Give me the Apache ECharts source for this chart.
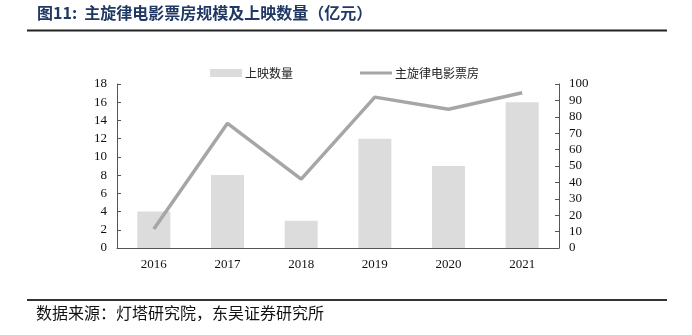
<!DOCTYPE html>
<html><head><meta charset="utf-8">
<script src="https://cdn.jsdelivr.net/npm/echarts@6/dist/echarts.min.js"></script>
<style>html,body{margin:0;padding:0;background:#fff;}#c{width:692px;height:335px;}</style>
</head><body><div id="c"></div>
<script>
const categories = ['2016','2017','2018','2019','2020','2021'];
const releaseCount = [4, 8, 3, 12, 9, 16];
const boxOffice = [11.6, 76, 42, 92, 84.6, 94.7];
const leftTicks = [0, 18, 2];
const rightTicks = [0, 100, 10];
const titleText = '图11:  主旋律电影票房规模及上映数量（亿元）';
const sourceText = '数据来源：灯塔研究院，东吴证券研究所';
const seriesNames = ['上映数量', '主旋律电影票房'];

const cjk = '"Noto Sans CJK SC", sans-serif';
const serif = '"Liberation Serif", "Times New Roman", serif';
const chart = echarts.init(document.getElementById('c'), null, {renderer: 'canvas'});
chart.setOption({
  animation: false,
  backgroundColor: '#fff',
  graphic: [
    {type: 'text', left: 37, top: 5, style: {text: titleText, font: 'bold 16px ' + cjk, fill: '#1F3864'}},
    {type: 'rect', shape: {x: 27, y: 29.5, width: 640, height: 2}, style: {fill: '#222'}},
    {type: 'rect', shape: {x: 27, y: 299, width: 640, height: 2}, style: {fill: '#333'}},
    {type: 'text', left: 36, top: 305, style: {text: sourceText, font: '16px ' + cjk, fill: '#111'}}
  ],
  legend: {
    top: 62, left: 205, itemGap: 67, itemWidth: 32, itemHeight: 8,
    textStyle: {fontFamily: cjk, fontSize: 12, color: '#222', padding: [0,0,0,-2]},
    data: [
      {name: seriesNames[0], icon: 'rect'},
      {name: seriesNames[1], icon: 'path://M0,0 L32,0 L32,3 L0,3 Z'}
    ]
  },
  grid: {left: 117, right: 133, top: 84, bottom: 87},
  xAxis: {
    type: 'category', data: categories,
    axisLine: {lineStyle: {color: '#555', width: 1}},
    axisTick: {inside: true, length: 4, lineStyle: {color: '#555'}},
    axisLabel: {fontFamily: serif, fontSize: 13, color: '#111', margin: 10}
  },
  yAxis: [
    {type: 'value', min: leftTicks[0], max: leftTicks[1], interval: leftTicks[2],
     axisLine: {show: true, lineStyle: {color: '#555'}},
     axisTick: {show: true, inside: true, length: 4, lineStyle: {color: '#555'}},
     splitLine: {show: false},
     axisLabel: {fontFamily: serif, fontSize: 13, color: '#111', margin: 10}},
    {type: 'value', min: rightTicks[0], max: rightTicks[1], interval: rightTicks[2], position: 'right',
     axisLine: {show: true, lineStyle: {color: '#555'}},
     axisTick: {show: true, inside: true, length: 4, lineStyle: {color: '#555'}},
     splitLine: {show: false},
     axisLabel: {fontFamily: serif, fontSize: 13, color: '#111', margin: 10}}
  ],
  series: [
    {name: seriesNames[0], type: 'bar', data: releaseCount, yAxisIndex: 0, barWidth: 33,
     itemStyle: {color: '#DCDCDC'}},
    {name: seriesNames[1], type: 'line', data: boxOffice, yAxisIndex: 1, symbol: 'none',
     lineStyle: {color: '#A6A6A6', width: 3.5}, itemStyle: {color: '#A6A6A6'}}
  ]
});
</script></body></html>
